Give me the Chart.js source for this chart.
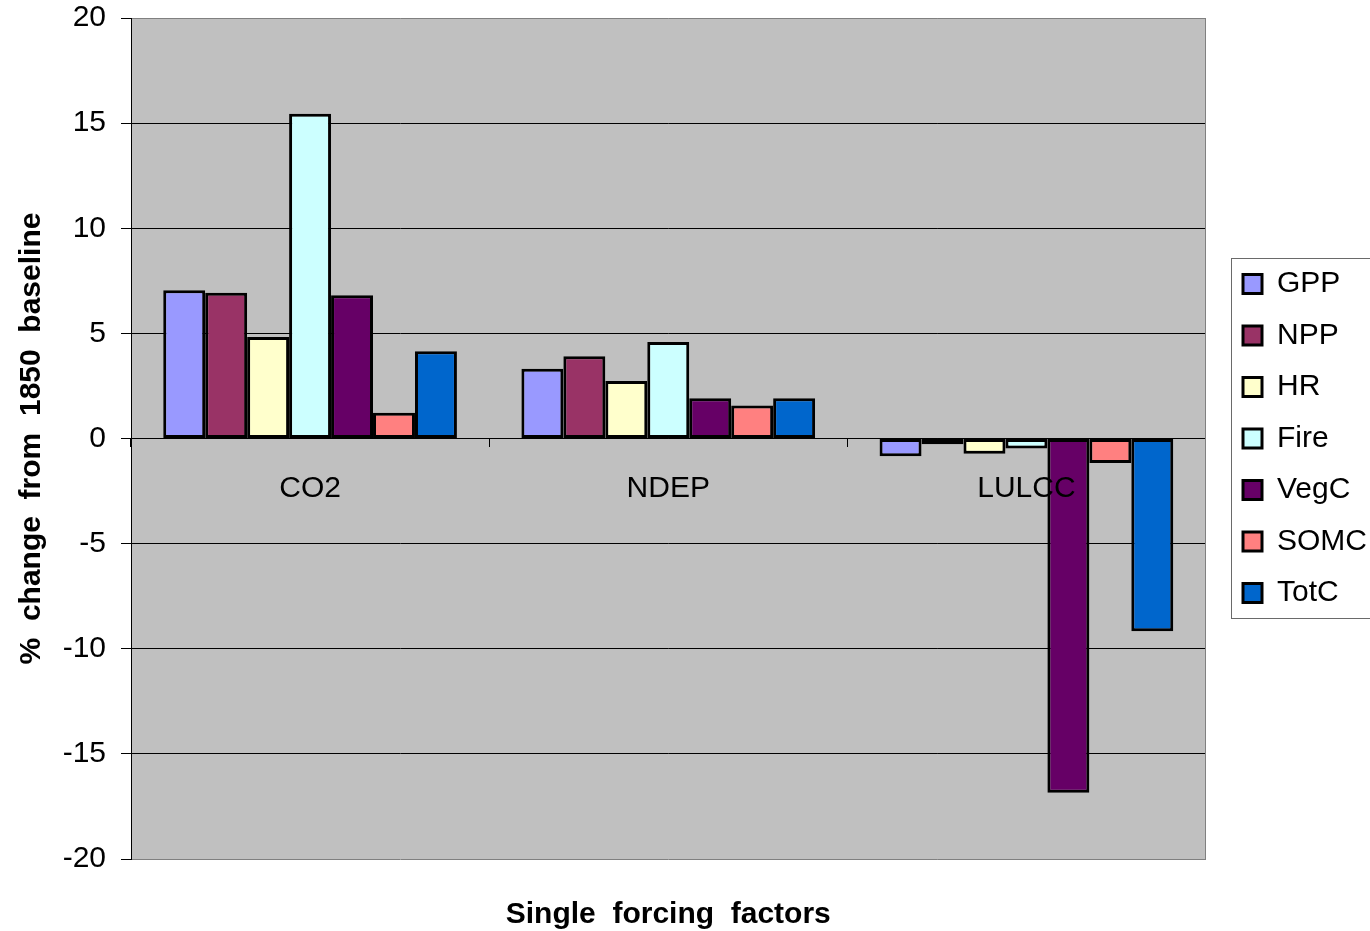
<!DOCTYPE html>
<html>
<head>
<meta charset="utf-8">
<script src="https://cdn.jsdelivr.net/npm/chart.js@4.4.1/dist/chart.umd.min.js"></script>
<style>
  html, body { margin: 0; padding: 0; background: #ffffff; }
  #wrap { width: 1370px; height: 931px; }
</style>
</head>
<body>
<div id="wrap"><canvas id="c" width="1370" height="931"></canvas></div>
<script>
// Forcing factors along the category axis
const categories = ['CO2', 'NDEP', 'LULCC'];

// Percent change from the 1850 baseline, one array per quantity
const gpp  = [7.05, 3.32, -0.85];
const npp  = [6.93, 3.91, -0.27];
const hr   = [4.83, 2.74, -0.72];
const fire = [15.45, 4.59, -0.47];
const vegc = [6.81, 1.91, -16.85];
const somc = [1.22, 1.57, -1.17];
const totc = [4.15, 1.91, -9.17];

const seriesNames = ['GPP', 'NPP', 'HR', 'Fire', 'VegC', 'SOMC', 'TotC'];
const seriesValues = [gpp, npp, hr, fire, vegc, somc, totc];
const seriesColors = ['#9999FF', '#993366', '#FFFFCC', '#CCFFFF', '#660066', '#FF8080', '#0066CC'];

// Y axis range and step
const yMin = -20;
const yMax = 20;
const yStep = 5;

const FONT = 'Liberation Sans, Arial, sans-serif';

// Grey plot background
const plotBackground = {
  id: 'plotBackground',
  beforeDraw(chart) {
    const { ctx, chartArea: a } = chart;
    ctx.save();
    ctx.fillStyle = '#C0C0C0';
    ctx.fillRect(a.left, a.top, a.right - a.left, a.bottom - a.top);
    ctx.restore();
  }
};

// Frame around the legend entries
const legendFrame = {
  id: 'legendFrame',
  afterDraw(chart) {
    const lg = chart.legend;
    if (!lg || !lg.legendHitBoxes || !lg.legendHitBoxes.length) return;
    const boxes = lg.legendHitBoxes;
    const first = boxes[0];
    const last = boxes[boxes.length - 1];
    const ctx = chart.ctx;
    const left = first.left - 11.5;
    const top = first.top - 10.5;
    const bottom = last.top + last.height + 10.5;
    ctx.save();
    ctx.strokeStyle = '#6a6a6a';
    ctx.lineWidth = 1;
    ctx.strokeRect(left, top, chart.width + 5 - left, bottom - top);
    ctx.restore();
  }
};

const datasets = seriesNames.map((name, i) => ({
  label: name,
  data: seriesValues[i],
  backgroundColor: seriesColors[i],
  borderColor: '#000000',
  borderWidth: 3,
  borderSkipped: false,
  xAxisID: 'x',
  yAxisID: 'y'
}));

new Chart(document.getElementById('c'), {
  type: 'bar',
  data: { labels: categories, datasets },
  plugins: [plotBackground, legendFrame],
  options: {
    responsive: false,
    animation: false,
    devicePixelRatio: 1,
    layout: { padding: { top: 18, right: -7, bottom: 0, left: 0 } },
    datasets: {
      bar: { categoryPercentage: 0.82, barPercentage: 1.0 }
    },
    plugins: {
      tooltip: { enabled: false },
      title: { display: false },
      legend: {
        display: true,
        position: 'right',
        fullSize: false,
        labels: {
          color: '#000000',
          font: { family: FONT, size: 30 },
          boxWidth: 19,
          boxHeight: 19,
          padding: 21.5
        }
      }
    },
    scales: {
      x: {
        type: 'category',
        position: { y: 0 },
        offset: true,
        grid: {
          display: true,
          offset: true,
          drawOnChartArea: false,
          drawTicks: true,
          tickLength: 8,
          color: '#000000',
          lineWidth: 1
        },
        border: { display: true, color: '#000000', width: 1 },
        ticks: {
          z: 1,
          color: '#000000',
          font: { family: FONT, size: 30 },
          padding: 24,
          maxRotation: 0,
          autoSkip: false
        }
      },
      xTitle: {
        type: 'category',
        position: 'bottom',
        labels: categories,
        grid: { display: false, drawTicks: false },
        border: { display: false },
        ticks: { display: false },
        title: {
          display: true,
          text: 'Single  forcing  factors',
          color: '#000000',
          font: { family: FONT, size: 30, weight: 'bold' },
          padding: { top: 38, bottom: -2 }
        }
      },
      y: {
        type: 'linear',
        position: 'left',
        min: yMin,
        max: yMax,
        afterFit(scale) {
          scale.width = 131;
          scale.paddingTop = 0;
          scale.paddingBottom = 0;
        },
        ticks: {
          stepSize: yStep,
          color: '#000000',
          font: { family: FONT, size: 30 },
          padding: 15
        },
        grid: {
          display: true,
          drawOnChartArea: true,
          drawTicks: true,
          tickLength: 10,
          color: (c) => (c.tick && (c.tick.value === yMax || c.tick.value === yMin)) ? '#808080' : '#000000',
          tickColor: '#000000',
          lineWidth: 1
        },
        border: { display: true, color: '#000000', width: 1 },
        title: {
          display: true,
          text: '%  change  from  1850  baseline',
          color: '#000000',
          font: { family: FONT, size: 30, weight: 'bold' },
          padding: { top: 14, bottom: 13 }
        }
      },
      yRight: {
        type: 'linear',
        position: 'right',
        display: true,
        grid: { display: false, drawTicks: false },
        ticks: { display: false },
        border: { display: true, color: '#808080', width: 1 },
        afterFit(scale) {
          scale.width = 16;
          scale.paddingTop = 0;
          scale.paddingBottom = 0;
        }
      }
    }
  }
});
</script>
</body>
</html>
